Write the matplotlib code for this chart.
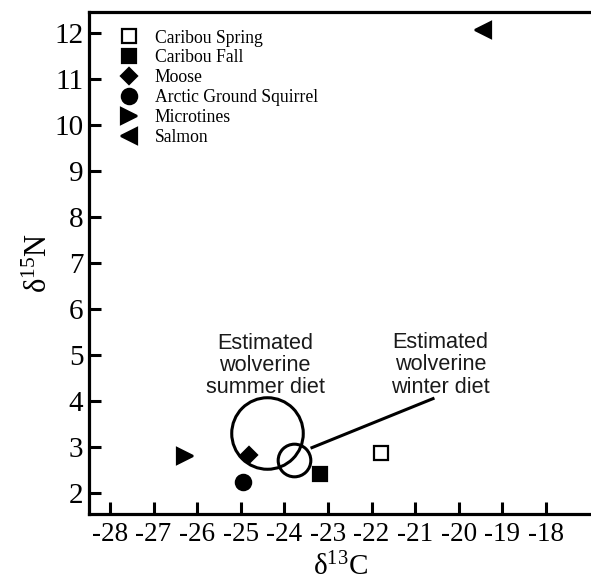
import matplotlib
matplotlib.use("Agg")
import matplotlib.pyplot as plt
from matplotlib.lines import Line2D

serif = ["Liberation Serif", "DejaVu Serif"]
sans = ["Liberation Sans", "DejaVu Sans"]
plt.rcParams["font.family"] = serif
plt.rcParams["mathtext.fontset"] = "custom"
plt.rcParams["mathtext.rm"] = "Liberation Serif"

# Data
labels = ["Caribou Spring", "Caribou Fall", "Moose", "Arctic Ground Squirrel", "Microtines", "Salmon"]
d13C = [-21.78, -23.19, -24.82, -24.96, -26.28, -19.44]
d15N = [2.87, 2.43, 2.83, 2.24, 2.80, 12.07]
markers = ["s", "s", "D", "o", ">", "<"]
filled = [False, True, True, True, True, True]
msizes = [10, 10.5, 8.5, 11, 11, 11]

diet_labels = ["Estimated\nwolverine\nsummer diet", "Estimated\nwolverine\nwinter diet"]
diet_x = [-24.40, -23.78]
diet_y = [3.30, 2.73]
diet_diam_pt = [51.5, 23.5]
label_x = [-24.44, -20.42]
label_y = [4.78, 4.79]
leader_x = [-23.40, -20.56]
leader_y = [2.98, 4.07]

xticks = list(range(-28, -17))
yticks = list(range(2, 13))

fig = plt.figure(figsize=(5.91, 5.84), dpi=100)
ax = fig.add_axes([89/591, (584-514)/584, 1 - 89/591, (514-12)/584])
ax.set_xlim(-28.48, -16.97)
ax.set_ylim(1.55, 12.46)

# Diet circles
for x, y, d in zip(diet_x, diet_y, diet_diam_pt):
    ax.plot([x], [y], marker="o", markersize=d, markerfacecolor="none",
            markeredgecolor="black", markeredgewidth=2.2, linestyle="none", zorder=2)
ax.plot(leader_x, leader_y, color="black", lw=2.2, solid_capstyle="butt", zorder=2)

for t, x, y in zip(diet_labels, label_x, label_y):
    ax.text(x, y, t, ha="center", va="center", fontsize=15.6, family=sans,
            color="#1a1a1a", linespacing=1.08)

# Data points
handles = []
for lab, x, y, m, f, s in zip(labels, d13C, d15N, markers, filled, msizes):
    ax.plot([x], [y], marker=m, markersize=s, linestyle="none",
            markerfacecolor="black" if f else "white", markeredgecolor="black",
            markeredgewidth=1.6, zorder=3)
    handles.append(Line2D([], [], marker=m, markersize=s, linestyle="none",
                          markerfacecolor="black" if f else "white",
                          markeredgecolor="black", markeredgewidth=1.6, label=lab))

leg = ax.legend(handles=handles, loc="upper left", bbox_to_anchor=(0.062, 0.965),
                frameon=False, borderaxespad=0, borderpad=0, handlelength=1.0,
                handletextpad=0.95, labelspacing=0.16,
                prop={"family": serif, "size": 12.7})

# Axes styling
for side in ["left", "bottom", "top"]:
    ax.spines[side].set_linewidth(2.3)
ax.spines["right"].set_visible(False)
ax.set_xticks(xticks)
ax.set_yticks(yticks)
ax.set_xticklabels([str(v) for v in xticks], family=serif, fontsize=19.5)
ax.set_yticklabels([str(v) for v in yticks], family=serif, fontsize=21)
ax.tick_params(direction="in", length=8.5, width=2.2, top=False, right=False)
ax.tick_params(axis="x", pad=6)
ax.tick_params(axis="y", pad=4)

ax.set_xlabel(r"$\mathregular{\delta^{13}C}$", fontsize=21, labelpad=4)
ax.set_ylabel(r"$\mathregular{\delta^{15}N}$", fontsize=22, labelpad=0)

fig.savefig("out.png", dpi=100)
